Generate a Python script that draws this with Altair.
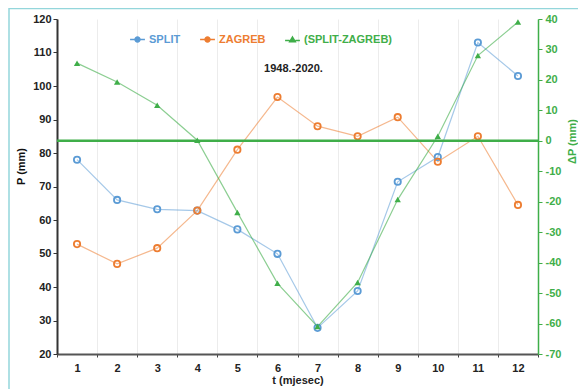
import altair as alt
import pandas as pd

months = list(range(1, 13))
split = [78, 66, 63.2, 62.8, 57.2, 49.9, 27.8, 38.8, 71.4, 78.8, 113, 103]
zagreb = [52.8, 46.9, 51.6, 62.8, 81, 96.7, 88, 85, 90.7, 77.4, 85, 64.5]
diff = [25.5, 19.3, 11.7, 0.2, -23.5, -46.8, -61, -46.5, -19.3, 1.5, 28, 39]
series_names = ["SPLIT", "ZAGREB", "(SPLIT-ZAGREB)"]
colors = ["#5b9bd5", "#ed7d31", "#3fae49"]
left_ticks = list(range(20, 121, 10))
right_ticks = list(range(-70, 41, 10))
period = "1948.-2020."

FONT = "Liberation Sans"

df_left = pd.DataFrame({
    "month": months * 2,
    "series": ["SPLIT"] * 12 + ["ZAGREB"] * 12,
    "value": split + zagreb,
})
df_right = pd.DataFrame({"month": months, "series": ["(SPLIT-ZAGREB)"] * 12, "value": diff})
df_zero = pd.DataFrame({"value": [0]})
df_text = pd.DataFrame({"month": [6], "value": [105], "t": [period]})

sym_circle = "M-1,0L-0.33,0M0.33,0L1,0M0.33,0A0.33,0.33 0 1 1 -0.33,0A0.33,0.33 0 1 1 0.33,0Z"
sym_tri = "M-1,0.1L-0.4,0.1M0.4,0.1L1,0.1M0,-0.35L0.38,0.3L-0.38,0.3Z"

color_enc = alt.Color(
    "series:N",
    scale=alt.Scale(domain=series_names, range=colors),
    legend=alt.Legend(
        title=None, orient="none", direction="horizontal", legendX=72, legendY=12,
        labelFont=FONT, labelFontWeight="bold", labelFontSize=11,
        labelColor={"expr": "datum.label == 'SPLIT' ? '#5b9bd5' : datum.label == 'ZAGREB' ? '#ed7d31' : '#3fae49'"},
        symbolType={"expr": "datum.label == '(SPLIT-ZAGREB)' ? '" + sym_tri + "' : '" + sym_circle + "'"},
        symbolFillColor={"expr": "datum.label == '(SPLIT-ZAGREB)' ? '#3fae49' : 'transparent'"},
        symbolSize=220, symbolStrokeWidth=1.5, columnPadding=16, labelOffset=3,
    ),
)

x_enc = alt.X(
    "month:O",
    scale=alt.Scale(type="band", paddingInner=0, paddingOuter=0),
    title="t (mjesec)",
    axis=alt.Axis(
        labelAngle=0, tickBand="extent", grid=True, gridColor="#ececec",
        domainColor="#555555", domainWidth=2, tickColor="#444444", tickSize=3,
        labelFont=FONT, labelFontWeight="bold", labelFontSize=11, labelColor="#222222",
        labelPadding=5, titleFont=FONT, titleFontWeight="bold", titleFontSize=11,
        titleColor="#222222", titlePadding=1,
    ),
)

y_left = alt.Y(
    "value:Q",
    scale=alt.Scale(domain=[20, 120], nice=False),
    title="P (mm)",
    axis=alt.Axis(
        values=left_ticks, grid=False, domainColor="#333333", domainWidth=2,
        tickColor="#333333", tickSize=4, labelFont=FONT, labelFontWeight="bold",
        labelFontSize=11, labelColor="#222222", titleFont=FONT, titleFontWeight="bold",
        titleFontSize=11, titleColor="#111111", titlePadding=6, titleY=147,
    ),
)

y_right = alt.Y(
    "value:Q",
    scale=alt.Scale(domain=[-70, 40], nice=False),
    title="ΔP (mm)",
    axis=alt.Axis(
        orient="right", values=right_ticks, grid=False, domainColor="#3fae49",
        domainWidth=1.5, tickColor="#3fae49", tickSize=4, labelFont=FONT,
        labelFontWeight="bold", labelFontSize=11, labelColor="#3fae49",
        labelExpr="'' + datum.value", labelPadding=3,
        titleFont=FONT, titleFontWeight="bold", titleFontSize=11, titleColor="#3fae49",
        titleAngle=270, titleX=34, titleY=122, titleAlign="center", titleBaseline="middle",
    ),
)

base_l = alt.Chart(df_left)
line_l = base_l.mark_line(strokeWidth=1.2, strokeOpacity=0.55).encode(x=x_enc, y=y_left, color=color_enc)
pts_l = base_l.mark_point(filled=False, size=40, strokeWidth=1.8, opacity=1).encode(x=x_enc, y=y_left, color=color_enc)
txt = alt.Chart(df_text).mark_text(
    font=FONT, fontWeight="bold", fontSize=11, color="#222222", dx=16
).encode(x=x_enc, y=y_left, text="t:N")
left = alt.layer(line_l, pts_l, txt)

base_r = alt.Chart(df_right)
zero = alt.Chart(df_zero).mark_rule(color="#3fae49", strokeWidth=2.5).encode(y=y_right)
line_r = base_r.mark_line(strokeWidth=1.2, strokeOpacity=0.6).encode(x=x_enc, y=y_right, color=color_enc)
pts_r = base_r.mark_point(shape="triangle-up", filled=True, size=40, opacity=1).encode(x=x_enc, y=y_right, color=color_enc)
right = alt.layer(zero, line_r, pts_r)

border = alt.Chart(pd.DataFrame({"a": [0]})).mark_rect(
    fillOpacity=0, stroke="#94d6db", strokeWidth=1.5
).encode(x=alt.value(-48), x2=alt.value(700), y=alt.value(-10.5), y2=alt.value(500))

chart = alt.layer(left, right, border).resolve_scale(y="independent").properties(
    width=481, height=335,
    autosize=alt.AutoSizeParams(type="none"),
    padding={"left": 49, "top": 11, "right": 40, "bottom": 36},
).configure_view(stroke=None)

chart.save("out.html", embed_options={"renderer": "svg", "actions": False})
